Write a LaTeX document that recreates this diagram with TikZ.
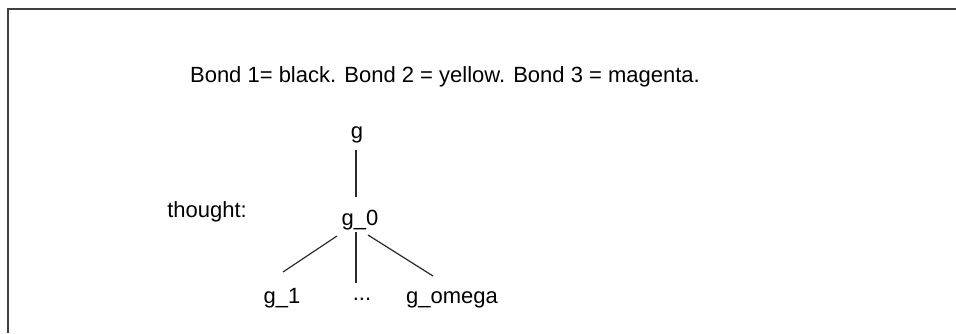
\documentclass[tikz,border=0pt]{standalone}
\usepackage{fontspec}
\setmainfont{Liberation Sans}
\usepackage{tikz}
\usetikzlibrary{calc}
\definecolor{FrameGray}{RGB}{64, 64, 64}
\definecolor{LinkGray}{RGB}{40, 40, 40}

\begin{document}
\begin{tikzpicture}[x=0.75pt,y=-0.75pt,
    lbl/.style={anchor=base, inner sep=0pt, font=\fontsize{16.5}{19}\selectfont},
    link/.style={LinkGray, line width=0.9pt}]
  \path[use as bounding box] (0,0) rectangle (956,333);

  % Window frame (top and left edges only)
  \draw[FrameGray, line width=1.4pt] (8,333) -- (8,9) -- (956,9);

  % Legend line
  \node[lbl] (legend) at (445,82) {Bond 1= black. Bond 2 = yellow. Bond 3 = magenta.};

  % Tree nodes
  \node[lbl] (g) at (357,138) {g};
  \node[lbl] (g0) at (360,225) {g\_0};
  \node[lbl, anchor=base west] (thought) at (167,217) {thought:};
  \node[lbl] (g1) at (282,303) {g\_1};
  \node[lbl] (dots) at (362,300) {...};
  \node[lbl] (gomega) at (452,303) {g\_omega};

  % Connectors
  \draw[link] ($(g.base)+(-1,12)$) -- ($(g0.base)+(-4,-28)$);
  \draw[link] ($(g0.base)+(-23,11)$) -- ($(g1.base)+(1,-31)$);
  \draw[link] ($(g0.base)+(-4,7)$) -- ($(dots.base)+(-6,-17)$);
  \draw[link] ($(g0.base)+(8,10)$) -- ($(gomega.base)+(-19,-27)$);
\end{tikzpicture}
\end{document}
